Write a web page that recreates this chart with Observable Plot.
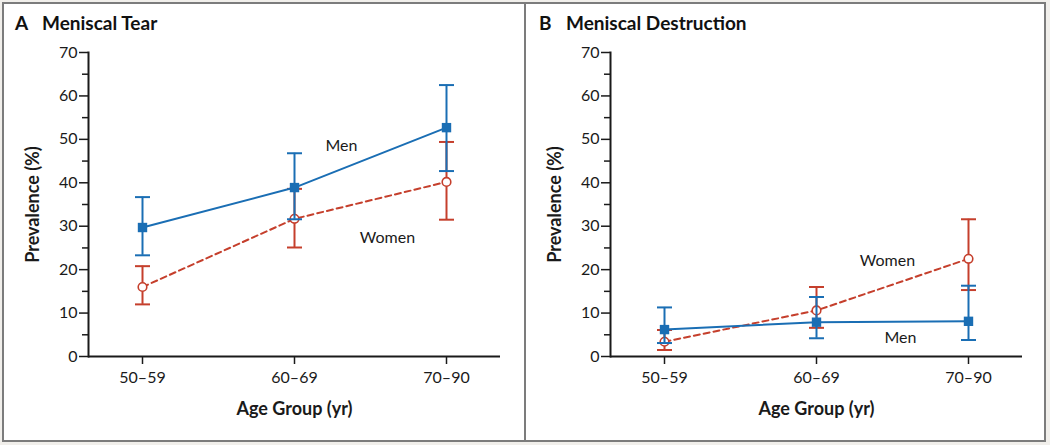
<!DOCTYPE html>
<html><head><meta charset="utf-8">
<script src="https://cdn.jsdelivr.net/npm/d3@7"></script>
<script src="https://cdn.jsdelivr.net/npm/@observablehq/plot@0.6"></script>
<style>
html,body{margin:0;padding:0;background:#f1efeb;width:1050px;height:445px;overflow:hidden;font-family:Lato,sans-serif;}
#frame{position:absolute;left:2px;top:2px;width:1040px;height:436px;border:2px solid #7c7c7c;background:#fff;}
#divider{position:absolute;left:520px;top:0;width:2px;height:436px;background:#7c7c7c;}
.panel{position:absolute;top:0;width:518px;height:436px;}
.title{position:absolute;top:9px;font-weight:700;font-size:19px;line-height:19px;color:#111;white-space:nowrap;}
.title .letter{display:inline-block;width:27px;}
.chart{position:absolute;top:36px;left:0;}
</style></head>
<body>
<div id="frame">
  <div class="panel" id="pA" style="left:0"><div class="title" style="left:11px"><span class="letter">A</span>Meniscal Tear</div><div class="chart" id="cA"></div></div>
  <div id="divider"></div>
  <div class="panel" id="pB" style="left:522px"><div class="title" style="left:13px"><span class="letter">B</span>Meniscal Destruction</div><div class="chart" id="cB"></div></div>
</div>
<script>
const ageGroups = ["50–59", "60–69", "70–90"];
const yTicks = [0, 10, 20, 30, 40, 50, 60, 70];
const yMinorTicks = [5, 15, 25, 35, 45, 55, 65];

// Panel A: Meniscal Tear
const tearMen = [29.7, 38.9, 52.7];
const tearMenLo = [23.3, 31.6, 42.7];
const tearMenHi = [36.7, 46.8, 62.5];
const tearWomen = [16.0, 31.7, 40.2];
const tearWomenLo = [12.0, 25.1, 31.5];
const tearWomenHi = [20.8, 38.6, 49.4];

// Panel B: Meniscal Destruction
const destMen = [6.2, 7.9, 8.1];
const destMenLo = [3.1, 4.2, 3.8];
const destMenHi = [11.3, 13.7, 16.3];
const destWomen = [3.4, 10.6, 22.5];
const destWomenLo = [1.5, 6.6, 15.3];
const destWomenHi = [6.1, 16.0, 31.6];

// series labels: text, anchor group, y value
const tearLabels = ["Men", "Women"];
const tearLabelGroup = ["60–69", "60–69"];
const tearLabelY = [48.4, 27.4];
const destLabels = ["Women", "Men"];
const destLabelGroup = ["60–69", "60–69"];
const destLabelY = [22.1, 4.4];

const blue = "#1a6eb4";
const red = "#c53f2c";
const ink = "#1a1a1a";

// horizontal error-bar cap drawn as a dot symbol
const capSymbol = {draw(ctx) { ctx.moveTo(-7.5, 0); ctx.lineTo(7.5, 0); }};

function rows(v, lo, hi) {
  return ageGroups.map((g, i) => ({g, v: v[i], lo: lo[i], hi: hi[i]}));
}

function panel(M, W, labels, labelDx) {
  const cap = {symbol: capSymbol, fill: "none", strokeWidth: 2};
  const labelMarks = labels.map((d, i) =>
    Plot.text([d], {x: "g", y: "y", text: "t", dx: labelDx[i], fontSize: 16, fill: ink}));
  return Plot.plot({
    width: 518, height: 395,
    marginLeft: 84, marginRight: 22, marginTop: 12, marginBottom: 79,
    style: {fontFamily: "Lato, sans-serif", fontSize: "16px", color: ink, background: "transparent", overflow: "visible"},
    x: {type: "point", domain: ageGroups, padding: 0.355},
    y: {domain: [0, 70]},
    marks: [
      Plot.axisY({ticks: yMinorTicks, tickSize: 6, tickFormat: () => "", strokeWidth: 1.5, label: null}),
      Plot.axisY({ticks: yTicks, tickSize: 9, tickPadding: 2, strokeWidth: 1.5, label: null, fontSize: 16}),
      Plot.axisX({tickSize: 8, tickPadding: 7, strokeWidth: 1.5, label: null, fontSize: 16}),
      Plot.frame({anchor: "left", strokeWidth: 2, stroke: ink}),
      Plot.ruleY([0], {strokeWidth: 2, stroke: ink}),
      Plot.text(["Age Group (yr)"], {frameAnchor: "bottom", dy: 53, lineAnchor: "middle", textAnchor: "middle", fontWeight: 700, fontSize: 18, fill: ink}),
      Plot.text(["Prevalence (%)"], {frameAnchor: "left", dx: -55, rotate: -90, lineAnchor: "middle", textAnchor: "middle", fontWeight: 700, fontSize: 18, fill: ink}),
      // Women
      Plot.line(W, {x: "g", y: "v", stroke: red, strokeWidth: 2, strokeDasharray: "6,4"}),
      Plot.ruleX(W, {x: "g", y1: "lo", y2: "hi", stroke: red, strokeWidth: 2}),
      Plot.dot(W, {x: "g", y: "lo", stroke: red, ...cap}),
      Plot.dot(W, {x: "g", y: "hi", stroke: red, ...cap}),
      Plot.dot(W, {x: "g", y: "v", r: 4.3, fill: "white", stroke: red, strokeWidth: 1.6}),
      // Men
      Plot.line(M, {x: "g", y: "v", stroke: blue, strokeWidth: 2}),
      Plot.ruleX(M, {x: "g", y1: "lo", y2: "hi", stroke: blue, strokeWidth: 2}),
      Plot.dot(M, {x: "g", y: "lo", stroke: blue, ...cap}),
      Plot.dot(M, {x: "g", y: "hi", stroke: blue, ...cap}),
      Plot.dot(M, {x: "g", y: "v", symbol: "square", r: 5.3, fill: blue}),
      ...labelMarks
    ]
  });
}

const tearLab = tearLabels.map((t, i) => ({t, g: tearLabelGroup[i], y: tearLabelY[i]}));
const destLab = destLabels.map((t, i) => ({t, g: destLabelGroup[i], y: destLabelY[i]}));

document.getElementById("cA").append(
  panel(rows(tearMen, tearMenLo, tearMenHi), rows(tearWomen, tearWomenLo, tearWomenHi), tearLab, [47, 93]));
document.getElementById("cB").append(
  panel(rows(destMen, destMenLo, destMenHi), rows(destWomen, destWomenLo, destWomenHi), destLab, [71, 84]));
</script>
</body></html>
